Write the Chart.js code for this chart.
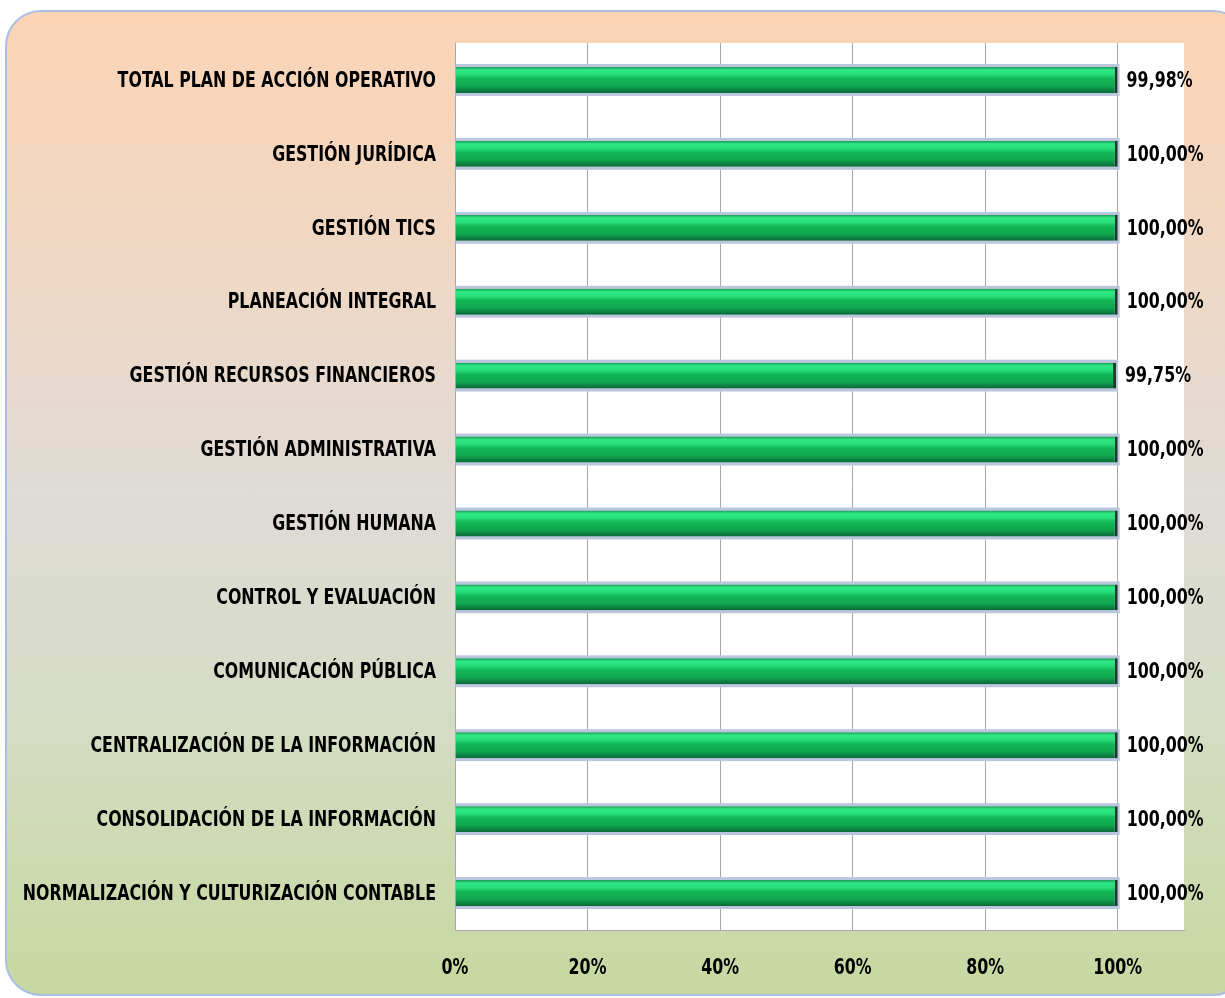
<!DOCTYPE html>
<html>
<head>
<meta charset="utf-8">
<script src="https://cdn.jsdelivr.net/npm/chart.js@4.4.0/dist/chart.umd.min.js"></script>
<style>
html, body { margin: 0; padding: 0; width: 1225px; height: 998px; overflow: hidden; background: #ffffff; }
#frame {
    position: absolute; left: 5px; top: 10px; width: 1240px; height: 982px;
    border: 2px solid #a9bee3; border-radius: 36px;
    background: linear-gradient(to bottom, #fbd4b5 0%, #eed8c6 28%, #dedbd6 50%, #d5dcc4 72%, #c6d8a0 100%);
}
#wrap { position: absolute; left: 0; top: 0; width: 1225px; height: 998px; }
</style>
</head>
<body>
<div id="frame"></div>
<div id="wrap"><canvas id="myChart"></canvas></div>
<script>
var categories = [
    'TOTAL PLAN DE ACCIÓN OPERATIVO',
    'GESTIÓN JURÍDICA',
    'GESTIÓN TICS',
    'PLANEACIÓN INTEGRAL',
    'GESTIÓN RECURSOS FINANCIEROS',
    'GESTIÓN ADMINISTRATIVA',
    'GESTIÓN HUMANA',
    'CONTROL Y EVALUACIÓN',
    'COMUNICACIÓN PÚBLICA',
    'CENTRALIZACIÓN DE LA INFORMACIÓN',
    'CONSOLIDACIÓN DE LA INFORMACIÓN',
    'NORMALIZACIÓN Y CULTURIZACIÓN CONTABLE'
];
var cumplimiento = [99.98, 100, 100, 100, 99.75, 100, 100, 100, 100, 100, 100, 100];
var tickValues = [0, 20, 40, 60, 80, 100];

var fontFamily = "'DejaVu Sans Condensed', 'DejaVu Sans', sans-serif";
var textFont = 'bold 22px ' + fontFamily;
var squeeze = 0.8;   // the original labels use a tall narrow face
var barPct = 0.35;

function pct(v) {
    return v.toFixed(2).replace('.', ',') + '%';
}

function narrowText(ctx, text, x, y, align) {
    ctx.save();
    ctx.translate(x, y);
    ctx.scale(squeeze, 1);
    ctx.textAlign = align;
    ctx.fillText(text, 0, 0);
    ctx.restore();
}

function barFill(c) {
    var chart = c.chart, ys = chart.scales.y;
    if (c.dataIndex === undefined || !ys || !chart.chartArea) return '#12b757';
    var h = (ys.bottom - ys.top) / categories.length * barPct;
    var top = ys.getPixelForValue(c.dataIndex) - h / 2;
    var g = chart.ctx.createLinearGradient(0, top, 0, top + h);
    g.addColorStop(0, '#1c9a55');
    g.addColorStop(0.12, '#2fe985');
    g.addColorStop(0.3, '#27dc79');
    g.addColorStop(0.45, '#12b757');
    g.addColorStop(0.74, '#10a64e');
    g.addColorStop(0.88, '#0d8443');
    g.addColorStop(1, '#0b6838');
    return g;
}

var barStyle = {
    id: 'barStyle',
    beforeDraw: function(chart) {
        var a = chart.chartArea, ctx = chart.ctx;
        ctx.save();
        ctx.fillStyle = '#ffffff';
        ctx.fillRect(a.left, a.top, a.right - a.left, a.bottom - a.top);
        ctx.restore();
    },
    beforeDatasetsDraw: function(chart) {
        var ctx = chart.ctx;
        ctx.save();
        ctx.fillStyle = '#b9c6dc';
        chart.getDatasetMeta(0).data.forEach(function(bar) {
            var h = bar.height;
            ctx.fillRect(bar.base, bar.y - h / 2 - 3, bar.x - bar.base + 2, h + 6);
        });
        ctx.restore();
    },
    afterDatasetsDraw: function(chart) {
        var ctx = chart.ctx, xs = chart.scales.x, ys = chart.scales.y;
        ctx.save();
        ctx.font = textFont;
        ctx.fillStyle = '#000000';
        ctx.textBaseline = 'middle';
        chart.getDatasetMeta(0).data.forEach(function(bar, i) {
            narrowText(ctx, pct(cumplimiento[i]), bar.x + 9, bar.y + 1, 'left');
        });
        categories.forEach(function(name, i) {
            narrowText(ctx, name, ys.right - 19, ys.getPixelForValue(i) + 1, 'right');
        });
        xs.ticks.forEach(function(t) {
            narrowText(ctx, t.value + '%', xs.getPixelForValue(t.value), xs.top + 38, 'center');
        });
        ctx.restore();
    }
};

document.addEventListener("DOMContentLoaded", function() {
    var ctx = document.getElementById('myChart').getContext('2d');
    var myChart = new Chart(ctx, {
        type: 'bar',
        data: {
            labels: categories,
            datasets: [{
                label: 'Cumplimiento',
                data: cumplimiento,
                backgroundColor: barFill,
                borderColor: '#1d3b2a',
                borderWidth: { right: 3, left: 0, top: 0, bottom: 0 },
                borderSkipped: false,
                categoryPercentage: 1,
                barPercentage: barPct
            }]
        },
        plugins: [barStyle],
        options: {
            indexAxis: 'y',
            responsive: true,
            maintainAspectRatio: false,
            animation: false,
            layout: { padding: { top: 43, right: 41, left: 0, bottom: 0 } },
            plugins: {
                legend: { display: false },
                tooltip: { enabled: false }
            },
            scales: {
                x: {
                    min: 0,
                    max: 110,
                    afterBuildTicks: function(s) {
                        s.ticks = tickValues.map(function(v) { return { value: v }; });
                    },
                    afterFit: function(s) { s.height = 68; },
                    grid: { color: '#a8a8a8', drawTicks: false },
                    border: { color: '#a8a8a8' },
                    ticks: { display: false }
                },
                y: {
                    afterFit: function(s) { s.width = 455; },
                    grid: { display: false, drawTicks: false },
                    border: { display: true, color: '#a8a8a8' },
                    ticks: { display: false }
                }
            }
        }
    });
});
</script>
</body>
</html>
